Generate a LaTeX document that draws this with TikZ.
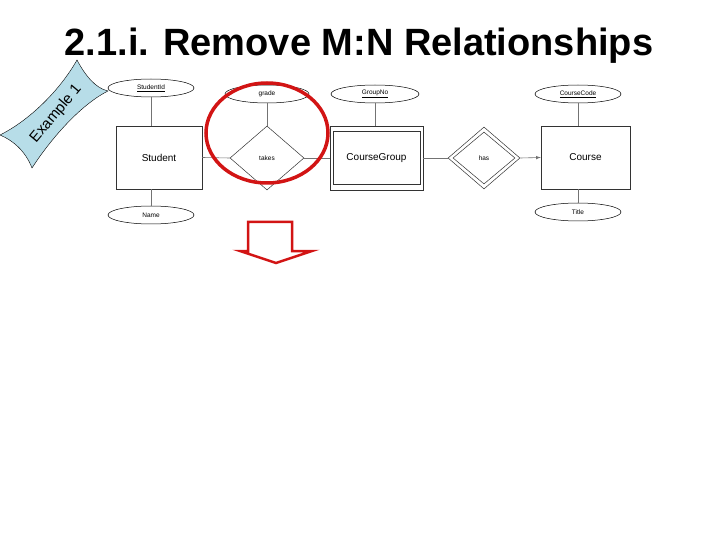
\documentclass[tikz,border=0pt]{standalone}
\usepackage{fontspec}
\setmainfont{Liberation Sans}
\usetikzlibrary{shapes.geometric}
\definecolor{redc}{RGB}{210,20,20}
\definecolor{flag}{RGB}{183,221,232}
\tikzset{x=1pt,y=-1pt,
 ent/.style={draw=black!80,line width=0.5pt,minimum width=86pt,minimum height=63pt,inner sep=0pt,font=\fontsize{10}{11}\selectfont},
 attr/.style={draw=black,ellipse,line width=0.5pt,minimum width=86pt,minimum height=18pt,inner sep=0pt,font=\fontsize{6.5}{7}\selectfont},
 rel/.style={draw=black!80,diamond,line width=0.5pt,minimum width=74pt,minimum height=64pt,inner sep=0pt,font=\fontsize{6.5}{7}\selectfont},
 ln/.style={black!55,line width=0.6pt}}
\begin{document}
\begin{tikzpicture}
\useasboundingbox (0,0) rectangle (720,540);
\node[font=\bfseries\fontsize{38}{42}\selectfont] (title) at (359,46) {2.1.i. Remove M:N Relationships};
% flag
\draw[fill=flag,draw=black,line width=0.4pt] (77,60) .. controls (85,75) and (95,88) .. (108,91)
  .. controls (80,105) and (50,140) .. (32,168)
  .. controls (25,150) and (12,140) .. (0,135)
  .. controls (30,120) and (60,90) .. (77,60) -- cycle;
\node[rotate=50,font=\fontsize{15}{18}\selectfont] (ex) at (56,114) {Example 1};
% entities
\node[ent] (student) at (159,157.5) {Student};
\node[ent,minimum width=93pt,minimum height=64pt] (cg) at (376.5,158) {};
\node[ent,minimum width=87pt,minimum height=53pt] (cgi) at (376.5,158) {CourseGroup};
\node[ent,minimum width=89pt] (course) at (585.5,157.5) {Course};
\node[rel] (takes) at (267,158) {takes};
\node[rel,minimum width=72pt,minimum height=62pt] (has) at (484,158) {};
\node[rel,minimum width=62pt,minimum height=52pt] (hasi) at (484,158) {has};
\node[attr] (sid) at (151,88) {\underline{StudentId}};
\node[attr] (name) at (151,215) {Name};
\node[attr,minimum width=84pt] (grade) at (267,94) {grade};
\node[attr,minimum width=88pt] (gno) at (375,94) {\underline{GroupNo}};
\node[attr] (ccode) at (578,94) {\underline{CourseCode}};
\node[attr] (title2) at (578,212) {Title};
\draw[ln] (sid) -- (sid|-student.north);
\draw[ln] (name) -- (name|-student.south);
\draw[ln] (grade) -- (takes.north);
\draw[ln] (gno) -- (gno|-cg.north);
\draw[ln] (ccode) -- (ccode|-course.north);
\draw[ln] (title2) -- (title2|-course.south);
\draw[ln] (student.east) -- (takes.west);
\draw[ln] (takes.east) -- (cg.west);
\draw[ln] (cg.east) -- (has.west);
\draw[ln,-latex] (has.east) -- (course.west);
% red circle
\draw[redc,line width=3.5pt] (267,133) ellipse [x radius=61pt,y radius=50pt];
% red arrow
\draw[redc,line width=2.5pt,fill=white,line join=miter] (248,222) -- (292,222) -- (292,251) -- (312,251) -- (276,263) -- (240,251) -- (248,251) -- cycle;
\end{tikzpicture}
\end{document}
